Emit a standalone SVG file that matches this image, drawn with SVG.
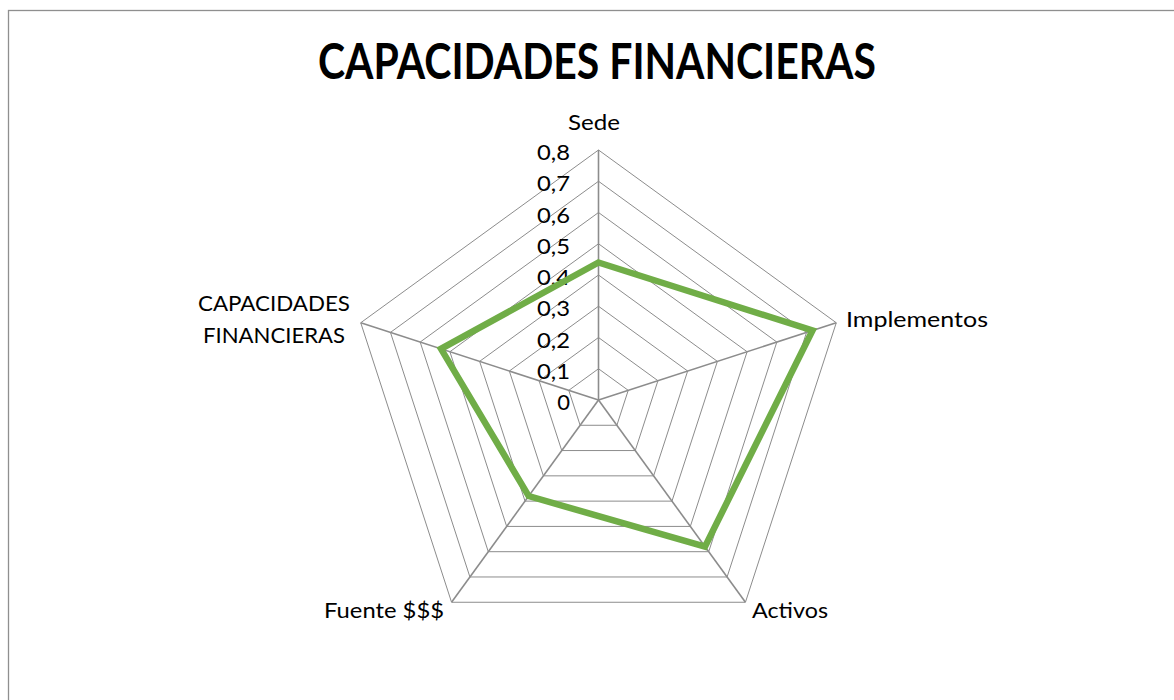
<svg xmlns="http://www.w3.org/2000/svg" width="1174" height="700" viewBox="0 0 1174 700">
<style>
.ring{fill:none;stroke:#8c8c8c;stroke-width:1}
.spoke{stroke:#8c8c8c;stroke-width:1.6}
.lbl{font-family:Lato,"Open Sans","Liberation Sans",sans-serif;font-size:22px;fill:#000}
.tick{font-family:Lato,"Open Sans","Liberation Sans",sans-serif;font-size:22px;fill:#000;text-anchor:end}
</style>
<rect x="0" y="0" width="1174" height="700" fill="#fff"/>
<rect x="8.5" y="10.5" width="1300" height="800" fill="#fff" stroke="#8f8f8f" stroke-width="1.3"/>
<text id="title" x="597" y="79" text-anchor="middle" font-family="Lato,'Open Sans','Liberation Sans',sans-serif" font-weight="bold" font-size="49" textLength="558" lengthAdjust="spacingAndGlyphs">CAPACIDADES FINANCIERAS</text>
<g id="grid">
<polygon class="ring" points="598.5,368.75 628.22,390.34 616.87,425.28 580.13,425.28 568.78,390.34"/>
<polygon class="ring" points="598.5,337.5 657.94,380.69 635.24,450.56 561.76,450.56 539.06,380.69"/>
<polygon class="ring" points="598.5,306.25 687.66,371.03 653.61,475.85 543.39,475.85 509.34,371.03"/>
<polygon class="ring" points="598.5,275 717.38,361.37 671.97,501.13 525.03,501.13 479.62,361.37"/>
<polygon class="ring" points="598.5,243.75 747.10,351.72 690.34,526.41 506.66,526.41 449.90,351.72"/>
<polygon class="ring" points="598.5,212.5 776.82,342.06 708.71,551.69 488.29,551.69 420.18,342.06"/>
<polygon class="ring" points="598.5,181.25 806.54,332.40 727.08,576.97 469.92,576.97 390.46,332.40"/>
<polygon class="ring" points="598.5,150 836.27,322.75 745.45,602.26 451.55,602.26 360.74,322.75"/>
</g>
<g id="connectors">
<line class="spoke" x1="598.5" y1="400" x2="598.5" y2="150"/>
<line class="spoke" x1="598.5" y1="400" x2="836.27" y2="322.75"/>
<line class="spoke" x1="598.5" y1="400" x2="745.45" y2="602.26"/>
<line class="spoke" x1="598.5" y1="400" x2="451.55" y2="602.26"/>
<line class="spoke" x1="598.5" y1="400" x2="360.74" y2="322.75"/>
</g>
<g id="ticks">
<text class="tick" x="570" y="160" textLength="33" lengthAdjust="spacingAndGlyphs">0,8</text>
<text class="tick" x="570" y="191.25" textLength="33" lengthAdjust="spacingAndGlyphs">0,7</text>
<text class="tick" x="570" y="222.5" textLength="33" lengthAdjust="spacingAndGlyphs">0,6</text>
<text class="tick" x="570" y="253.75" textLength="33" lengthAdjust="spacingAndGlyphs">0,5</text>
<text class="tick" x="570" y="285" textLength="33" lengthAdjust="spacingAndGlyphs">0,4</text>
<text class="tick" x="570" y="316.25" textLength="33" lengthAdjust="spacingAndGlyphs">0,3</text>
<text class="tick" x="570" y="347.5" textLength="33" lengthAdjust="spacingAndGlyphs">0,2</text>
<text class="tick" x="570" y="378.75" textLength="33" lengthAdjust="spacingAndGlyphs">0,1</text>
<text class="tick" x="570" y="410">0</text>
</g>
<g id="series">
<polygon points="598.5,262.5 812.5,330.5 705.0,546.6 528.7,496.1 441.0,348.8" fill="none" stroke="#70ad47" stroke-width="6.5" stroke-linejoin="miter"/>
</g>
<g id="node-sede"><text class="lbl" x="594" y="130" text-anchor="middle" textLength="52" lengthAdjust="spacingAndGlyphs">Sede</text></g>
<g id="node-implementos"><text class="lbl" x="846" y="327" textLength="142" lengthAdjust="spacingAndGlyphs">Implementos</text></g>
<g id="node-activos"><text class="lbl" x="752" y="618" textLength="76" lengthAdjust="spacingAndGlyphs">Activos</text></g>
<g id="node-fuente"><text class="lbl" x="324" y="618" textLength="120" lengthAdjust="spacingAndGlyphs">Fuente $$$</text></g>
<g id="node-capacidades">
<text class="lbl" x="274" y="311" text-anchor="middle" textLength="152" lengthAdjust="spacingAndGlyphs">CAPACIDADES</text>
<text class="lbl" x="274" y="343" text-anchor="middle" textLength="142" lengthAdjust="spacingAndGlyphs">FINANCIERAS</text>
</g>
</svg>
